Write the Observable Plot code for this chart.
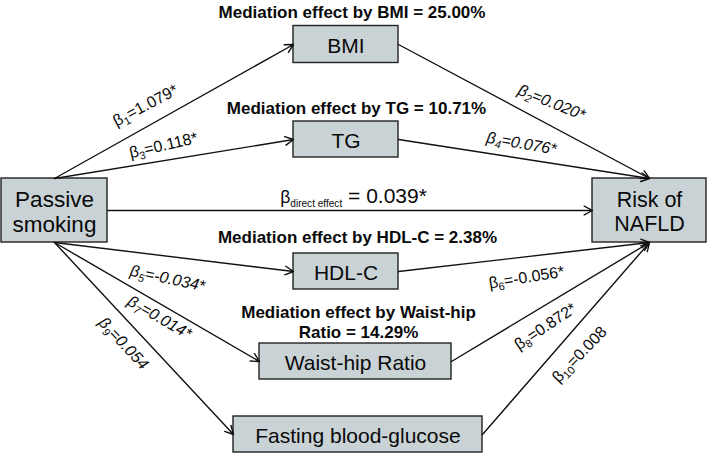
<!DOCTYPE html>
<html>
<head>
<meta charset="utf-8">
<script src="https://cdn.jsdelivr.net/npm/d3@7"></script>
<script src="https://cdn.jsdelivr.net/npm/@observablehq/plot@0.6"></script>
<style>
  html, body { margin: 0; padding: 0; background: #fff; }
  #chart svg { display: block; }
</style>
</head>
<body>
<div id="chart"></div>
<script>
// ---- Data: nodes (variables) ----
const nodeNames = ["Passive\nsmoking", "BMI", "TG", "HDL-C", "Waist-hip Ratio", "Fasting blood-glucose", "Risk of\nNAFLD"];

// ---- Data: paths (from node index, to node index) and coefficients ----
const edgeFrom = [0, 1, 0, 2, 0, 0, 3, 0, 4, 0, 5];
const edgeTo   = [1, 6, 2, 6, 6, 3, 6, 4, 6, 5, 6];
const edgeLabels = [
  "β_{1}=1.079*", "β_{2}=0.020*", "β_{3}=0.118*", "β_{4}=0.076*",
  "β_{direct effect} = 0.039*",
  "β_{5}=-0.034*", "β_{6}=-0.056*", "β_{7}=0.014*", "β_{8}=0.872*",
  "β_{9}=0.054", "β_{10}=0.008"
];

// ---- Data: mediation effects ----
const mediationLabels = [
  "Mediation effect by BMI = 25.00%",
  "Mediation effect by TG = 10.71%",
  "Mediation effect by HDL-C = 2.38%",
  "Mediation effect by Waist-hip\nRatio = 14.29%"
];

// ---- Layout (diagram geometry, pixels) ----
const nodeCx = [54, 345.5, 345.5, 345.5, 355, 357.5, 649];
const nodeCy = [210, 44, 139, 271, 361, 434, 210];
const nodeW  = [106, 105, 105, 105, 192, 249, 114];
const nodeH  = [64, 37, 36, 36, 36, 36, 64];
const nodeFont = [22.5, 21, 21, 21, 21, 21, 21.5];
const edgeFromSide = ["top", "right", "top", "right", "right", "bottom", "right", "bottom", "right", "bottom", "right"];
const edgeToSide   = ["left", "top", "left", "top", "left", "left", "bottom", "left", "bottom", "left", "bottom"];
const labelX = [145, 551, 163, 521, 353, 167, 526, 159, 545, 123, 579];
const labelY = [105, 102, 145, 143, 196, 278, 277, 317, 326, 343, 354];
const labelRot = [-28, 22, -13, 10, 0, 12, -9, 30, -34, 47, -46];
const labelItalic = [false, true, false, true, false, true, false, true, false, true, false];
const labelSize = [16, 16, 16, 16, 21, 16, 16, 16, 16, 16, 16];
const medX = [351.5, 356, 357, 358];
const medY = [11.5, 107.5, 236.5, 321.5];

function anchor(i, side) {
  const cx = nodeCx[i], cy = nodeCy[i], w = nodeW[i], h = nodeH[i];
  if (side === "top") return [cx, cy - h / 2];
  if (side === "bottom") return [cx, cy + h / 2];
  if (side === "left") return [cx - w / 2, cy];
  return [cx + w / 2, cy];
}

const nodes = nodeNames.map((name, i) => ({
  name, x1: nodeCx[i] - nodeW[i] / 2, x2: nodeCx[i] + nodeW[i] / 2,
  y1: nodeCy[i] - nodeH[i] / 2, y2: nodeCy[i] + nodeH[i] / 2, cx: nodeCx[i], cy: nodeCy[i], fs: nodeFont[i]
}));
const edges = edgeFrom.map((f, i) => {
  const [ax, ay] = anchor(f, edgeFromSide[i]);
  const [bx, by] = anchor(edgeTo[i], edgeToSide[i]);
  return {ax, ay, bx, by, label: edgeLabels[i], lx: labelX[i], ly: labelY[i], rot: labelRot[i], italic: labelItalic[i], size: labelSize[i]};
});
const meds = mediationLabels.map((t, i) => ({t, x: medX[i], y: medY[i]}));

const font = "Liberation Sans, Arial, Helvetica, sans-serif";
const ink = "#0a0a0a";

const nodeTextMarks = [...new Set(nodeFont)].map(fs =>
  Plot.text(nodes.filter(d => d.fs === fs), {x: "cx", y: "cy", text: "name", fontSize: fs, fill: ink, lineHeight: 1.1, dy: 1})
);

const plot = Plot.plot({
  width: 708,
  height: 455,
  margin: 0,
  style: {fontFamily: font, background: "#fff", overflow: "visible"},
  x: {domain: [0, 708], range: [0, 708], axis: null},
  y: {domain: [0, 455], range: [0, 455], axis: null},
  marks: [
    Plot.rect(nodes, {x1: "x1", x2: "x2", y1: "y1", y2: "y2", fill: "#c9d3d6", stroke: "#222", strokeWidth: 1.4}),
    Plot.arrow(edges, {x1: "ax", y1: "ay", x2: "bx", y2: "by", stroke: "#111", strokeWidth: 1.4, headLength: 10, headAngle: 55}),
    ...nodeTextMarks,
    Plot.text(meds, {x: "x", y: "y", text: "t", fontSize: 17, fontWeight: "bold", fill: ink, lineHeight: 1.18}),
    Plot.text(edges.filter(d => !d.italic && d.size === 16), {x: "lx", y: "ly", text: "label", rotate: "rot", fontSize: 16, fill: ink}),
    Plot.text(edges.filter(d => d.italic), {x: "lx", y: "ly", text: "label", rotate: "rot", fontSize: 16, fontStyle: "italic", fill: ink}),
    Plot.text(edges.filter(d => d.size === 21), {x: "lx", y: "ly", text: "label", fontSize: 21, fill: ink})
  ]
});

// Convert "_{...}" into real subscript tspans
d3.select(plot).selectAll("text").each(function () {
  const t = this;
  if (t.querySelector("tspan")) return;
  const s = t.textContent;
  const m = s.match(/^(.*?)_\{(.*?)\}(.*)$/);
  if (!m) return;
  const fs = parseFloat(getComputedStyle(t).fontSize) || 16;
  const isDirect = m[2].length > 3;
  t.textContent = "";
  const sel = d3.select(t);
  sel.append("tspan").text(m[1]).attr("font-size", isDirect ? fs * 1.1 : null);
  sel.append("tspan").text(m[2]).attr("font-size", isDirect ? fs * 0.63 : fs * 0.68).attr("dy", fs * 0.22);
  sel.append("tspan").text(m[3]).attr("dy", -fs * 0.22);
});

document.getElementById("chart").append(plot);
</script>
</body>
</html>
